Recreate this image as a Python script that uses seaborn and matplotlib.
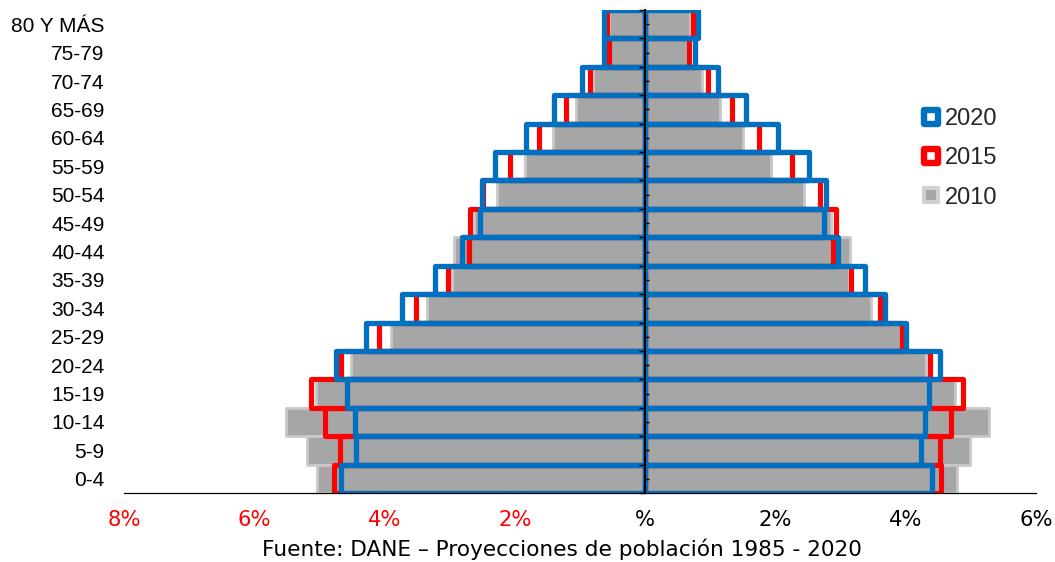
import matplotlib
matplotlib.use("Agg")
import numpy as np
import pandas as pd
import matplotlib.pyplot as plt
from matplotlib.lines import Line2D
from matplotlib.markers import MarkerStyle
import seaborn as sns

edades = ['0-4', '5-9', '10-14', '15-19', '20-24', '25-29', '30-34', '35-39',
          '40-44', '45-49', '50-54', '55-59', '60-64', '65-69', '70-74',
          '75-79', '80 Y MÁS']

hombres_2010 = [5.03, 5.19, 5.52, 5.06, 4.52, 3.90, 3.35, 2.96, 2.93, 2.62,
                2.28, 1.84, 1.42, 1.06, 0.80, 0.54, 0.55]
hombres_2015 = [4.77, 4.69, 4.92, 5.13, 4.67, 4.09, 3.51, 3.03, 2.71, 2.69,
                2.49, 2.08, 1.63, 1.22, 0.85, 0.55, 0.58]
hombres_2020 = [4.67, 4.44, 4.46, 4.57, 4.75, 4.29, 3.73, 3.22, 2.81, 2.54,
                2.50, 2.30, 1.83, 1.40, 0.97, 0.63, 0.63]

mujeres_2010 = [4.79, 4.99, 5.28, 4.76, 4.31, 3.94, 3.46, 3.13, 3.15, 2.86,
                2.44, 1.93, 1.50, 1.15, 0.88, 0.66, 0.69]
mujeres_2015 = [4.54, 4.53, 4.69, 4.88, 4.37, 3.95, 3.60, 3.16, 2.88, 2.93,
                2.68, 2.25, 1.75, 1.33, 0.96, 0.67, 0.74]
mujeres_2020 = [4.41, 4.23, 4.29, 4.36, 4.52, 4.01, 3.68, 3.37, 2.96, 2.75,
                2.77, 2.52, 2.04, 1.55, 1.12, 0.77, 0.81]

anios = ['2010', '2015', '2020']
ticks_x = [-8, -6, -4, -2, 0, 2, 4, 6]
etiquetas_x = ['8%', '6%', '4%', '2%', '%', '2%', '4%', '6%']
fuente = 'Fuente: DANE \u2013 Proyecciones de población 1985 - 2020'

AZUL = '#0070C0'
ROJO = '#FF0000'
GRIS = '#A6A6A6'

datos = {
    '2010': (hombres_2010, mujeres_2010),
    '2015': (hombres_2015, mujeres_2015),
    '2020': (hombres_2020, mujeres_2020),
}
estilos = {
    '2010': dict(fill=True, color=GRIS, edgecolor='#C8C8C8', linewidth=2.0),
    '2015': dict(fill=False, color=ROJO, linewidth=3.7),
    '2020': dict(fill=False, color=AZUL, linewidth=3.8),
}

sns.set_style('white')
plt.rcParams['font.family'] = ['Liberation Sans', 'DejaVu Sans']

fig, ax = plt.subplots(figsize=(10.55, 5.62), dpi=100)
fig.subplots_adjust(left=124 / 1055, right=1036 / 1055, top=1 - 10 / 562, bottom=1 - 493 / 562)

orden = edades[::-1]
for anio in anios:
    h, m = datos[anio]
    df = pd.DataFrame({'edad': edades, 'hombres': -np.array(h), 'mujeres': np.array(m)})
    for lado in ['hombres', 'mujeres']:
        sns.barplot(data=df, x=lado, y='edad', order=orden, orient='h', width=1.0,
                    saturation=1, errorbar=None, ax=ax, joinstyle='round', **estilos[anio])

xmin, xmax = -8, 6
ax.set_xlim(xmin, xmax)
ax.set_ylim(16.5, -0.5)
ax.set_xlabel('')
ax.set_ylabel('')

for lado in ['top', 'right', 'left']:
    ax.spines[lado].set_visible(False)
ax.spines['bottom'].set_color('black')
ax.spines['bottom'].set_linewidth(0.9)

ax.set_xticks(ticks_x)
ax.set_xticklabels(etiquetas_x, family=['DejaVu Sans'], fontsize=15.2)
for valor, etiqueta in zip(ticks_x, ax.get_xticklabels()):
    etiqueta.set_color(ROJO if valor < 0 else 'black')
ax.tick_params(axis='x', direction='out', length=5, width=0.9, color='black', pad=7)
ax.tick_params(axis='y', length=0, pad=14, labelsize=15, labelcolor='black')

# eje vertical en el cero
eje0 = ax.secondary_yaxis((0 - xmin) / (xmax - xmin))
eje0.set_alignment('left')
eje0.set_zorder(5)
eje0.set_yticks(np.arange(-0.5, 17, 1))
eje0.set_yticks(np.arange(0, 17, 1), minor=True)
eje0.set_yticklabels([])
eje0.set_yticklabels([], minor=True)
eje0.tick_params(which='major', direction='out', length=4.5, width=1, color='black',
                 labelleft=False, labelright=False)
eje0.tick_params(which='minor', direction='in', length=3, width=1, color='black',
                 labelleft=False, labelright=False)
eje0.spines['left'].set_color('black')
eje0.spines['left'].set_linewidth(1.5)

# leyenda
def marcador(cara, borde, ancho):
    return Line2D([], [], linestyle='none', marker=MarkerStyle('s', joinstyle='round'),
                  markersize=9.5, markerfacecolor=cara, markeredgecolor=borde,
                  markeredgewidth=ancho)

manejadores = [marcador('white', AZUL, 4.6), marcador('white', ROJO, 4.6),
               marcador(GRIS, '#D0D0D0', 3.0)]
fig.legend(manejadores, ['2020', '2015', '2010'], loc='upper left',
           bbox_to_anchor=(909 / 1055, 1 - 96 / 562), frameon=False,
           fontsize=17, handlelength=0.85, handletextpad=0.15,
           labelspacing=0.74, borderpad=0)

fig.text(562 / 1055, 1 - 549 / 562, fuente, ha='center', va='center',
         family=['DejaVu Sans'], fontsize=15.6, color='black')

fig.savefig('out.png', dpi=100)
